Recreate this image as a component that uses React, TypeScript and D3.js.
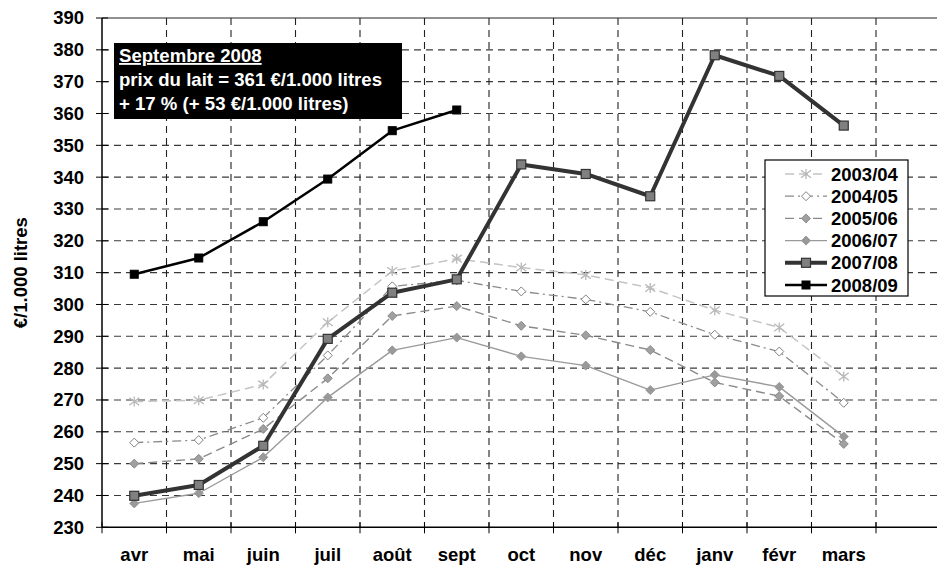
import React from "react";
import * as d3 from "d3";

const months = ["avr", "mai", "juin", "juil", "août", "sept", "oct", "nov", "déc", "janv", "févr", "mars"];
const yTicks = [230, 240, 250, 260, 270, 280, 290, 300, 310, 320, 330, 340, 350, 360, 370, 380, 390];

const s2003 = [269.5, 269.9, 274.9, 294.4, 310.5, 314.4, 311.6, 309.3, 305.2, 298.2, 292.8, 277.4];
const s2004 = [256.6, 257.4, 264.4, 284.0, 305.7, 307.6, 304.1, 301.6, 297.7, 290.5, 285.2, 269.1];
const s2005 = [250.0, 251.5, 260.9, 276.8, 296.4, 299.5, 293.3, 290.3, 285.7, 275.5, 271.2, 256.2];
const s2006 = [237.5, 240.7, 252.0, 270.8, 285.6, 289.6, 283.7, 280.8, 273.1, 277.9, 274.1, 258.5];
const s2007 = [239.9, 243.3, 255.6, 289.2, 303.7, 307.9, 344.0, 341.0, 334.0, 378.3, 371.8, 356.2];
const s2008 = [309.5, 314.6, 326.0, 339.4, 354.6, 361.1];

const seriesNames = ["2003/04", "2004/05", "2005/06", "2006/07", "2007/08", "2008/09"];

const annotationLines = ["Septembre 2008", "prix du lait = 361 €/1.000 litres", "+ 17 % (+ 53 €/1.000 litres)"];

type Style = {
  stroke: string;
  width: number;
  dash?: string;
  marker: "star" | "diamondOpen" | "diamond" | "square" | "squareBlack";
  mFill: string;
  mStroke: string;
};

const styles: Style[] = [
  { stroke: "#c4c4c4", width: 1.5, dash: "9,5", marker: "star", mFill: "none", mStroke: "#b8b8b8" },
  { stroke: "#8a8a8a", width: 1.3, dash: "9,4,2,4", marker: "diamondOpen", mFill: "#fff", mStroke: "#808080" },
  { stroke: "#8a8a8a", width: 1.4, dash: "9,5", marker: "diamond", mFill: "#a0a0a0", mStroke: "#8a8a8a" },
  { stroke: "#9a9a9a", width: 1.4, marker: "diamond", mFill: "#999", mStroke: "#999" },
  { stroke: "#333", width: 4, marker: "square", mFill: "#808080", mStroke: "#333" },
  { stroke: "#000", width: 2.5, marker: "squareBlack", mFill: "#000", mStroke: "#000" },
];

const FONT = "'Liberation Sans', Arial, sans-serif";

function Marker({ kind, x, y, st }: { kind: Style["marker"]; x: number; y: number; st: Style }) {
  if (kind === "star") {
    const r = 5;
    const d = `M${x},${y - r}L${x},${y + r}M${x - r},${y - r * 0.75}L${x + r},${y + r * 0.75}M${x - r},${y + r * 0.75}L${x + r},${y - r * 0.75}`;
    return <path d={d} stroke={st.mStroke} strokeWidth={1.3} fill="none" />;
  }
  if (kind === "diamondOpen" || kind === "diamond") {
    const r = 4.5;
    const d = `M${x},${y - r}L${x + r},${y}L${x},${y + r}L${x - r},${y}Z`;
    return <path d={d} fill={st.mFill} stroke={st.mStroke} strokeWidth={1} />;
  }
  if (kind === "square") {
    const s = 9;
    return <rect x={x - s / 2} y={y - s / 2} width={s} height={s} fill={st.mFill} stroke={st.mStroke} strokeWidth={1.2} />;
  }
  const s = 8;
  return <rect x={x - s / 2} y={y - s / 2} width={s} height={s} fill={st.mFill} stroke={st.mStroke} strokeWidth={1} />;
}

export default function App() {
  const W = 937;
  const H = 572;
  const x = d3.scaleBand<string>().domain([...months, ""]).range([102, 940.5]).padding(0);
  const y = d3.scaleLinear().domain([230, 390]).range([527.3, 18]);
  const bw = x.bandwidth();
  const cx = (m: string) => (x(m) as number) + bw / 2;

  const data = [s2003, s2004, s2005, s2006, s2007, s2008];
  const line = d3
    .line<[string, number]>()
    .x((d) => cx(d[0]))
    .y((d) => y(d[1]));

  const [x0, x1] = x.range();
  const [yb, yt] = y.range();
  const boundaries = [...months.slice(1), ""].map((m) => x(m) as number);

  const legendX = 765;
  const legendY = 160;
  const rowH = 22.2;

  return (
    <svg width={W} height={H} style={{ position: "absolute", left: 0, top: 0, background: "#fff" }} fontFamily={FONT}>
      {/* horizontal grid */}
      {yTicks.slice(1, -1).map((t) => (
        <line key={"h" + t} x1={x0} x2={x1} y1={y(t)} y2={y(t)} stroke="#3a3a3a" strokeWidth={1.1} strokeDasharray="7,5" />
      ))}
      <line x1={x0} x2={x1} y1={yt} y2={yt} stroke="#222" strokeWidth={1} />
      {/* vertical grid */}
      {boundaries.map((bx, i) => (
        <line key={"v" + i} x1={bx} x2={bx} y1={yt} y2={yb} stroke="#222" strokeWidth={1.1} strokeDasharray="7,5" />
      ))}
      {/* axes */}
      <line x1={x0} x2={x0} y1={yt} y2={yb} stroke="#000" strokeWidth={1.5} />
      <line x1={x0} x2={x1} y1={yb} y2={yb} stroke="#000" strokeWidth={1.5} />
      {yTicks.map((t) => (
        <g key={"yt" + t}>
          <line x1={96} x2={108} y1={y(t)} y2={y(t)} stroke="#000" strokeWidth={1} />
          <text x={84} y={y(t)} dy="0.35em" textAnchor="end" fontSize={18.5} fontWeight="bold" fill="#000">
            {t}
          </text>
        </g>
      ))}
      {[months[0], ...months.slice(1), ""].map((m, i) => {
        const bx = x(m) as number;
        return <line key={"xt" + i} x1={bx} x2={bx} y1={yb - 5} y2={yb + 6} stroke="#000" strokeWidth={1} />;
      })}
      {months.map((m) => (
        <text key={"xl" + m} x={cx(m)} y={561} textAnchor="middle" fontSize={18.5} fontWeight="bold" fill="#000">
          {m}
        </text>
      ))}
      {/* y title */}
      <text
        transform={`translate(27,${(yt + yb) / 2}) rotate(-90)`}
        textAnchor="middle"
        fontSize={18.5}
        fontWeight="bold"
        fill="#000"
      >
        €/1.000 litres
      </text>

      {/* series */}
      {data.map((vals, si) => {
        const st = styles[si];
        const pts: [string, number][] = vals.map((v, i) => [months[i], v]);
        return (
          <g key={"s" + si}>
            <path
              d={line(pts) as string}
              fill="none"
              stroke={st.stroke}
              strokeWidth={st.width}
              strokeDasharray={st.dash}
              strokeLinejoin="round"
            />
            {pts.map((p, i) => (
              <Marker key={i} kind={st.marker} x={cx(p[0])} y={y(p[1])} st={st} />
            ))}
          </g>
        );
      })}

      {/* annotation */}
      <rect x={114} y={43} width={288} height={76} fill="#000" />
      {annotationLines.map((t, i) => (
        <text
          key={"a" + i}
          x={119}
          y={62 + i * 24}
          fontSize={18.6}
          fontWeight="bold"
          fill="#fff"
          textDecoration={i === 0 ? "underline" : undefined}
        >
          {t}
        </text>
      ))}

      {/* legend */}
      <rect x={legendX} y={legendY} width={143} height={136} fill="#fff" stroke="#000" strokeWidth={1.2} />
      {seriesNames.map((n, i) => {
        const st = styles[i];
        const ry = legendY + 14 + i * rowH;
        return (
          <g key={"l" + i}>
            <line
              x1={785}
              x2={827}
              y1={ry}
              y2={ry}
              stroke={st.stroke}
              strokeWidth={st.width}
              strokeDasharray={st.dash}
            />
            <Marker kind={st.marker} x={806} y={ry} st={st} />
            <text x={831} y={ry} dy="0.36em" fontSize={18.5} fontWeight="bold" fill="#000">
              {n}
            </text>
          </g>
        );
      })}
    </svg>
  );
}
